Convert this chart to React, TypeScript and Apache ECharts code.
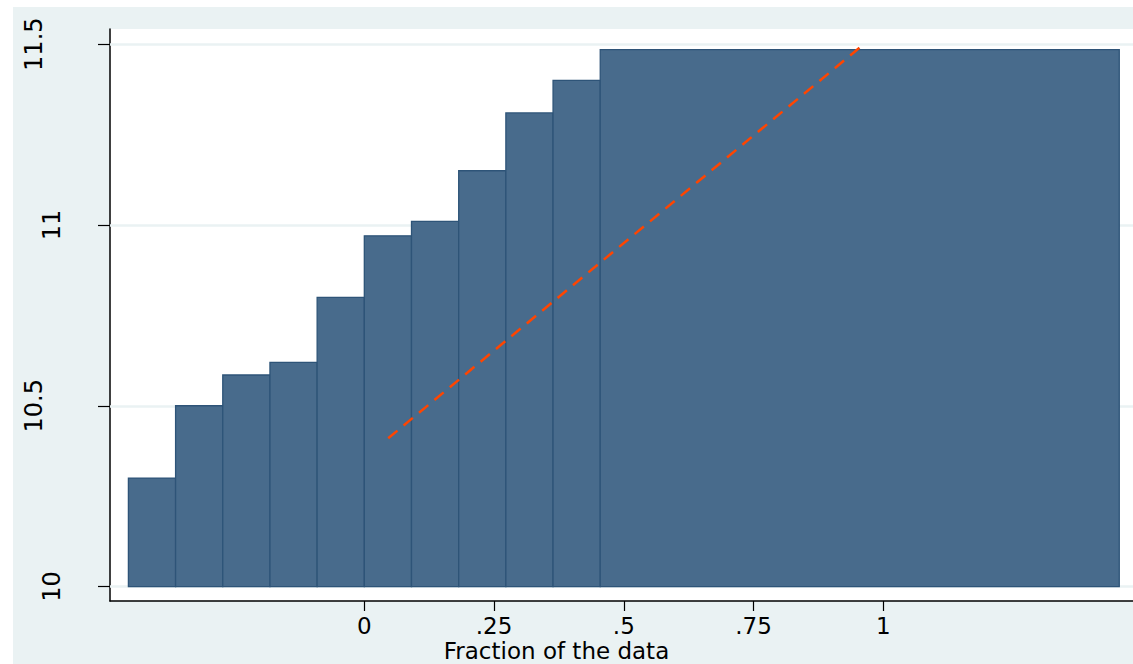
import React, { useEffect, useRef } from "react";
import * as echarts from "echarts";

const barStarts = [-5 / 11, -4 / 11, -3 / 11, -2 / 11, -1 / 11, 0, 1 / 11, 2 / 11, 3 / 11, 4 / 11, 5 / 11];
const barEnds = [-4 / 11, -3 / 11, -2 / 11, -1 / 11, 0, 1 / 11, 2 / 11, 3 / 11, 4 / 11, 5 / 11, 16 / 11];
const barHeights = [10.3, 10.5, 10.585, 10.62, 10.8, 10.97, 11.01, 11.15, 11.31, 11.4, 11.485];
const baseValue = 10;

const fitLine = [
  [0.046, 10.41],
  [0.954, 11.49],
];

const xTicks = [0, 0.25, 0.5, 0.75, 1];
const xTickLabels = ["0", ".25", ".5", ".75", "1"];
const yTicks = [10, 10.5, 11, 11.5];
const yTickLabels = ["10", "10.5", "11", "11.5"];
const xTitle = "Fraction of the data";

export default function App() {
  const ref = useRef<HTMLDivElement>(null);
  useEffect(() => {
    if (!ref.current) return;
    const chart = echarts.init(ref.current, undefined, { renderer: "svg" });
    const barData = barStarts.map((s, i) => [s, barEnds[i], barHeights[i]]);
    const font = "DejaVu Sans, Liberation Sans, sans-serif";
    chart.setOption({
      animation: false,
      backgroundColor: "#EAF2F3",
      grid: {
        left: 110,
        top: 29,
        right: 0,
        bottom: 63,
        show: true,
        backgroundColor: "#ffffff",
        borderWidth: 0,
        containLabel: false,
        outerBoundsMode: "none",
      },
      xAxis: {
        type: "value",
        min: -0.49,
        max: 1.481,
        name: xTitle,
        nameLocation: "middle",
        nameGap: 38,
        nameMoveOverlap: false,
        nameTextStyle: { color: "#000", fontSize: 23, lineHeight: 23, fontFamily: font, padding: [0, 130, 0, 0] },
        axisLine: { show: true, onZero: false, lineStyle: { color: "#000", width: 1.5 } },
        axisTick: { show: true, length: 10, customValues: xTicks, lineStyle: { color: "#000", width: 1.2 } },
        axisLabel: {
          customValues: xTicks,
          margin: 14,
          color: "#000",
          fontSize: 23,
          lineHeight: 22,
          fontFamily: font,
          formatter: (v: number) => {
            const i = xTicks.findIndex((t) => Math.abs(t - v) < 1e-6);
            return i >= 0 ? xTickLabels[i] : "";
          },
        },
        splitLine: { show: false },
      },
      yAxis: {
        type: "value",
        min: 9.96,
        max: 11.542,
        axisLine: { show: true, onZero: false, lineStyle: { color: "#000", width: 1.5 } },
        axisTick: { show: true, length: 12, customValues: yTicks, lineStyle: { color: "#000", width: 1.2 } },
        axisLabel: {
          customValues: yTicks,
          rotate: 90,
          margin: 46,
          color: "#000",
          fontSize: 24,
          fontFamily: font,
          formatter: (v: number) => {
            const i = yTicks.findIndex((t) => Math.abs(t - v) < 1e-6);
            if (i < 0) return "";
            const s = yTickLabels[i];
            return s.indexOf(".") >= 0 ? "{d|" + s + "}" : "{n|" + s + "}";
          },
          rich: {
            n: { fontSize: 24, fontFamily: font, color: "#000" },
            d: { fontSize: 24, fontFamily: font, color: "#000", padding: [0, 0, 18, 0] },
          },
        },
        splitLine: { show: false },
      },
      series: [
        {
          type: "line",
          data: [],
          silent: true,
          z: 1,
          markLine: {
            silent: true,
            z: 1,
            symbol: "none",
            label: { show: false },
            lineStyle: { color: "#EAF2F3", width: 2.5, type: "solid" },
            data: yTicks.map((t) => ({ yAxis: t })),
          },
        },
        {
          type: "custom",
          data: barData,
          z: 3,
          renderItem: (params: any, api: any) => {
            const p0 = api.coord([api.value(0), api.value(2)]);
            const p1 = api.coord([api.value(1), baseValue]);
            return {
              type: "rect",
              shape: { x: p0[0], y: p0[1], width: p1[0] - p0[0], height: p1[1] - p0[1] },
              style: { fill: "#486B8C", stroke: "#2E5478", lineWidth: 1.3 },
            };
          },
        },
        {
          type: "line",
          data: fitLine,
          z: 4,
          symbol: "none",
          lineStyle: { color: "#FF4500", width: 2.5, type: [12, 8] },
        },
      ],
      graphic: [
        { type: "rect", left: 0, top: 0, z: 100, shape: { width: 1133, height: 7 }, style: { fill: "#ffffff" } },
        { type: "rect", left: 0, top: 0, z: 100, shape: { width: 13, height: 664 }, style: { fill: "#ffffff" } },
      ],
    });
    return () => chart.dispose();
  }, []);
  return (
    <div
      ref={ref}
      style={{ position: "absolute", left: 0, top: 0, width: 1133, height: 664 }}
    />
  );
}
